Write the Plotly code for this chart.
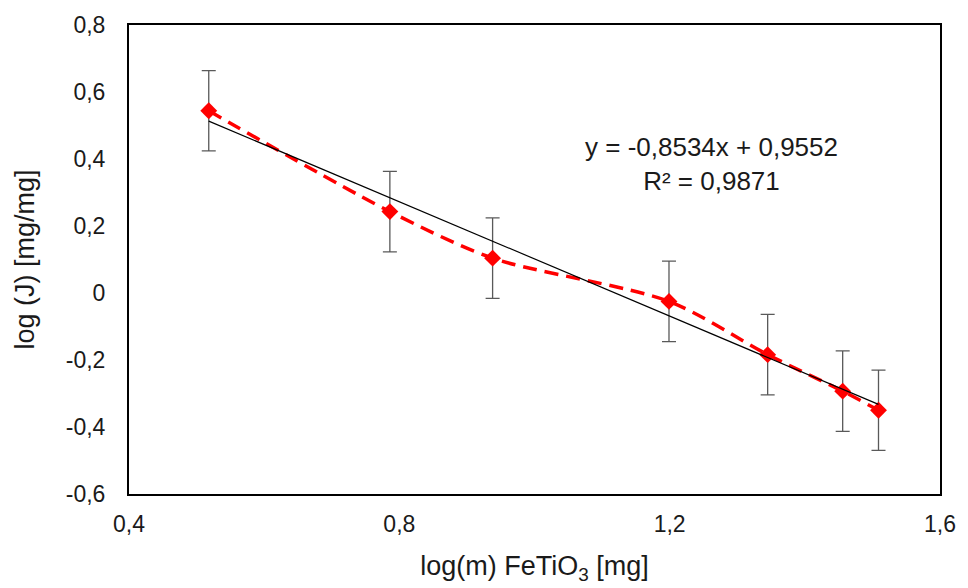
import plotly.graph_objects as go

x_vals = [0.518, 0.786, 0.938, 1.199, 1.345, 1.456, 1.509]
y_vals = [0.544, 0.243, 0.104, -0.025, -0.184, -0.293, -0.350]
y_err = [0.12, 0.12, 0.12, 0.12, 0.12, 0.12, 0.12]
slope = -0.8534
intercept = 0.9552
x_ticks = [0.4, 0.8, 1.2, 1.6]
y_ticks = [-0.6, -0.4, -0.2, 0, 0.2, 0.4, 0.6, 0.8]

trend_x = [min(x_vals), max(x_vals)]
trend_y = [slope * v + intercept for v in trend_x]

FONT = "Liberation Sans, Arial, sans-serif"

fig = go.Figure()
fig.add_trace(go.Scatter(
    x=x_vals, y=y_vals, mode="lines+markers",
    line=dict(color="#FF0000", width=3.5, dash="14px,8px", shape="spline", smoothing=0.8),
    marker=dict(symbol="diamond", size=13, color="#FF0000"),
    error_y=dict(type="data", array=y_err, visible=True, color="#595959", thickness=1.3, width=7),
    showlegend=False,
))
fig.add_trace(go.Scatter(
    x=trend_x, y=trend_y, mode="lines",
    line=dict(color="black", width=1.2),
    showlegend=False,
))

fig.add_annotation(
    x=1.262, y=0.385, xref="x", yref="y",
    text="y = -0,8534x + 0,9552<br>R² = 0,9871",
    showarrow=False, align="center",
    font=dict(family=FONT, size=26, color="#1a1a1a"),
)

fig.update_layout(
    width=968, height=588,
    margin=dict(l=129, r=25, t=21, b=94),
    paper_bgcolor="white", plot_bgcolor="white",
    separators=",.",
    font=dict(family=FONT, color="#1a1a1a"),
)
fig.update_xaxes(
    range=[0.4, 1.6], tickvals=x_ticks, ticktext=[f"{v:.1f}".replace(".", ",") for v in x_ticks],
    showgrid=False, zeroline=False,
    showline=True, linecolor="black", linewidth=2, mirror=True,
    ticks="", tickfont=dict(family=FONT, size=23, color="#1a1a1a"),
    ticklabelstandoff=8,
    title=dict(text="log(m) FeTiO<sub>3</sub> [mg]", font=dict(family=FONT, size=27, color="#1a1a1a"), standoff=21),
)
fig.update_yaxes(
    range=[-0.6, 0.8], tickvals=y_ticks,
    ticktext=["0" if abs(v) < 1e-9 else f"{v:.1f}".replace(".", ",") for v in y_ticks],
    showgrid=False, zeroline=False,
    showline=True, linecolor="black", linewidth=2, mirror=True,
    ticks="", tickfont=dict(family=FONT, size=23, color="#1a1a1a"),
    ticklabelstandoff=17,
    title=dict(text="log (J) [mg/mg]", font=dict(family=FONT, size=27, color="#1a1a1a"), standoff=23),
)

fig.write_html("out.html")
